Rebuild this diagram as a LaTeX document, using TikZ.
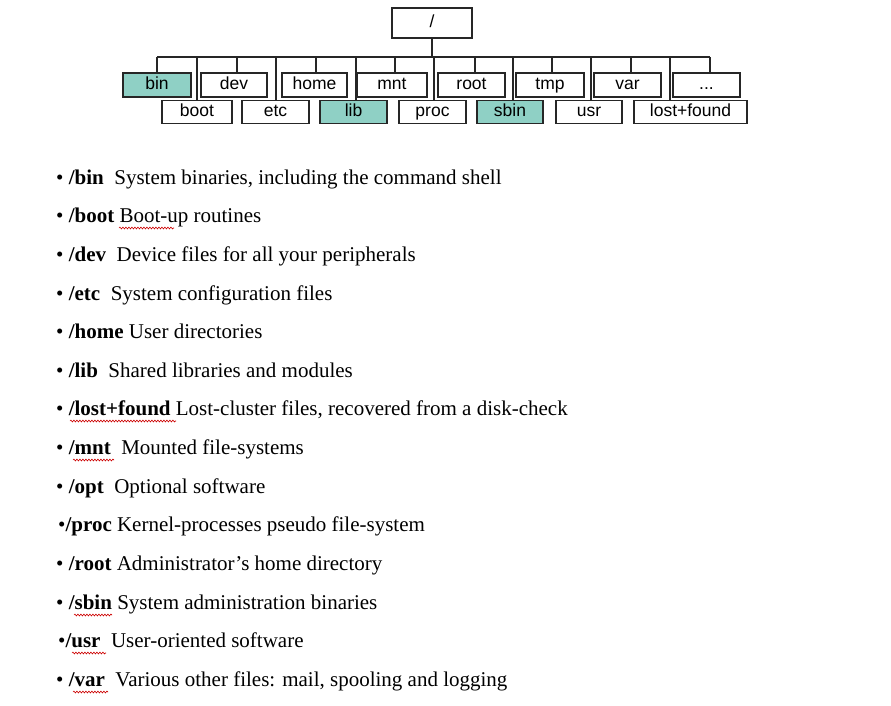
\documentclass[tikz,border=0pt]{standalone}
\usepackage{fontspec}
\setmainfont{Liberation Serif}
\newfontfamily\arialf{Liberation Sans}
\usetikzlibrary{decorations.pathmorphing}
\definecolor{tealf}{HTML}{8FD0C5}
\newcommand\mytdots{...}
\begin{document}
\begin{tikzpicture}[x=1pt,y=-1pt,
  dir/.style={draw=black!85,line width=1.4pt,minimum height=24pt,inner sep=0pt,text height=12pt,text depth=3pt,font=\arialf\fontsize{17.5}{17.5}\selectfont},
  hl/.style={fill=tealf},
  conn/.style={draw=black!85,line width=1.3pt},
  item/.style={anchor=base west,inner sep=0pt,font=\fontsize{21}{22}\selectfont},
  spell/.style={draw=red!80!black,line width=0.6pt,decorate,decoration={snake,amplitude=0.9pt,segment length=3pt}}]
\useasboundingbox (0,0) rectangle (891,705);
\node[dir,minimum width=80pt,minimum height=30pt] (root) at (432,23) {/};
% top row
\foreach \n/\t/\a/\b/\h in {bin/bin/123/191/1,dev/dev/201/267/0,home/home/282/347/0,mnt/mnt/357/427/0,rt/root/438/505/0,tmp/tmp/516/584/0,var/var/594/661/0,dts/\mytdots/673/740/0}{
  \ifnum\h=1
  \node[dir,hl,minimum width={\b-\a}] (\n) at ({(\a+\b)/2},85) {\t};
  \else
  \node[dir,minimum width={\b-\a}] (\n) at ({(\a+\b)/2},85) {\t};
  \fi}
% bottom row
\foreach \n/\t/\a/\b/\h in {boot/boot/162/232/0,etc/etc/242/309/0,lib/lib/320/387/1,proc/proc/399/466/0,sbin/sbin/477/543/1,usr/usr/556/622/0,lf/lost+found/634/747/0}{
  \ifnum\h=1
  \node[dir,hl,minimum width={\b-\a},minimum height=23pt] (\n) at ({(\a+\b)/2},112) {\t};
  \else
  \node[dir,minimum width={\b-\a},minimum height=23pt] (\n) at ({(\a+\b)/2},112) {\t};
  \fi}
\coordinate (bus) at (432,57);
\draw[conn] (root.south) -- (bus);
\draw[conn] (157,57) -- (710,57);
\foreach \n/\x in {bin/157,dev/237,home/316,mnt/395,rt/475,tmp/552,var/631,dts/710}
  \draw[conn] (\x,57) -- (\n.north -| \x,0);
\foreach \n/\x in {boot/197,etc/276,lib/356,proc/434,sbin/513,usr/591,lf/670}
  \draw[conn] (\x,57) -- (\n.north -| \x,0);
% bullet list
\node[item] (l1) at (56,184) {• \textbf{/bin}\ \ System binaries, including the command shell};
\node[item] (l2) at (56,222) {• \textbf{/boot} Boot-up routines};
\node[item] (l3) at (56,261) {• \textbf{/dev}\ \ Device files for all your peripherals};
\node[item] (l4) at (56,300) {• \textbf{/etc}\ \ System configuration files};
\node[item] (l5) at (56,338) {• \textbf{/home} User directories};
\node[item] (l6) at (56,377) {• \textbf{/lib}\ \ Shared libraries and modules};
\node[item] (l7) at (56,415) {• \textbf{/lost+found} Lost-cluster files, recovered from a disk-check};
\node[item] (l8) at (56,454) {• \textbf{/mnt}\ \ Mounted file-systems};
\node[item] (l9) at (56,493) {• \textbf{/opt}\ \ Optional software};
\node[item] (l10) at (58,531) {•\textbf{/proc} Kernel-processes pseudo file-system};
\node[item] (l11) at (56,570) {• \textbf{/root} Administrator’s home directory};
\node[item] (l12) at (56,609) {• \textbf{/sbin} System administration binaries};
\node[item] (l13) at (58,647) {•\textbf{/usr}\ \ User-oriented software};
\node[item] (l14) at (56,686) {• \textbf{/var}\ \ Various other files: mail, spooling and logging};
% spelling marks
\draw[spell] (119,228) -- (174,228);
\draw[spell] (70,421) -- (176,421);
\draw[spell] (73,460) -- (114,460);
\draw[spell] (74,615) -- (112,615);
\draw[spell] (72,653) -- (106,653);
\draw[spell] (73,692) -- (108,692);
\end{tikzpicture}
\end{document}
